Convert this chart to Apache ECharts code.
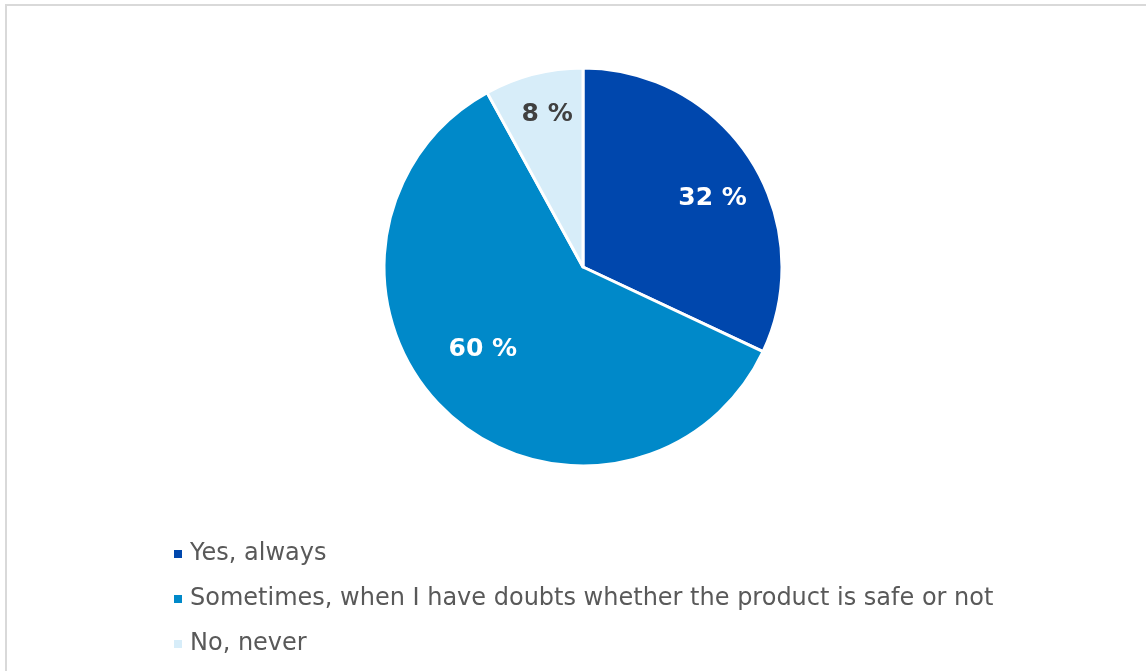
<!DOCTYPE html>
<html>
<head>
<meta charset="utf-8">
<script src="https://cdn.jsdelivr.net/npm/echarts@6/dist/echarts.min.js"></script>
<style>
  html, body { margin: 0; padding: 0; background: #fff; overflow: hidden; }
  #frame { position: absolute; left: 5px; top: 4px; width: 1160px; height: 700px;
           border: 2px solid #d9d9d9; box-sizing: border-box; }
  #chart { position: absolute; left: 0; top: 0; width: 1146px; height: 671px; }
</style>
</head>
<body>
<div id="frame"></div>
<div id="chart"></div>
<script>
// Survey answers and their shares (%)
const categories = [
  'Yes, always',
  'Sometimes, when I have doubts whether the product is safe or not',
  'No, never'
];
const shares = [32, 60, 8];
const sliceColors = ['#0047AD', '#0089C9', '#D7EDF9'];
const labelColors = ['#ffffff', '#ffffff', '#404040'];
// small nudges so each value sits comfortably in its slice
const labelOffsets = [[1, 13], [4, -28], [2, -5]];

const FONT = '"DejaVu Sans", Verdana, sans-serif';
const center = [583, 267];
const R = 199;

const pieData = categories.map((name, i) => ({
  name,
  value: shares[i],
  itemStyle: { color: sliceColors[i] }
}));

// Transparent ring whose mid-radius carries the value labels
const labelData = categories.map((name, i) => ({
  name,
  value: shares[i],
  label: { color: labelColors[i], offset: labelOffsets[i] }
}));

const chart = echarts.init(document.getElementById('chart'), null, { renderer: 'canvas' });
chart.setOption({
  animation: false,
  backgroundColor: 'transparent',
  legend: {
    orient: 'vertical',
    left: 167,
    top: 537,
    icon: 'rect',
    itemWidth: 10,
    itemHeight: 10,
    itemGap: 21,
    selectedMode: false,
    data: categories,
    textStyle: {
      fontFamily: FONT,
      fontSize: 24,
      color: '#595959',
      padding: [0, 0, 0, 2]
    }
  },
  series: [
    {
      type: 'pie',
      center: center,
      radius: [0, R],
      startAngle: 90,
      clockwise: true,
      silent: true,
      label: { show: false },
      labelLine: { show: false },
      itemStyle: { borderColor: '#ffffff', borderWidth: 3 },
      data: pieData
    },
    {
      type: 'pie',
      center: center,
      radius: [R * 0.5, R],
      startAngle: 90,
      clockwise: true,
      silent: true,
      legendHoverLink: false,
      itemStyle: { color: 'rgba(0,0,0,0)', borderWidth: 0 },
      label: {
        show: true,
        position: 'inside',
        formatter: p => p.value + ' %',
        fontFamily: FONT,
        fontWeight: 'bold',
        fontSize: 25
      },
      labelLine: { show: false },
      data: labelData
    }
  ]
});
</script>
</body>
</html>
